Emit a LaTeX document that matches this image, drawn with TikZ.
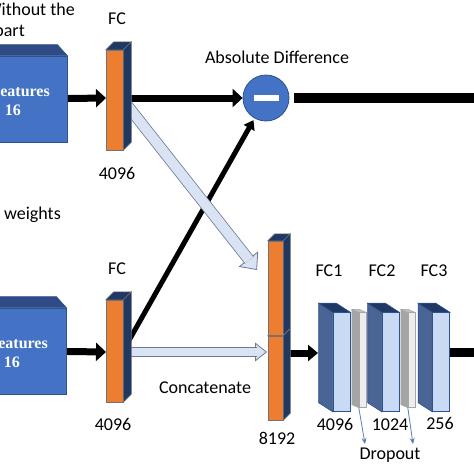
\documentclass[tikz,border=0pt]{standalone}
\usepackage{fontspec}
\setmainfont{Carlito}
\newfontfamily\featfont{Liberation Serif}
\usepackage{tikz}
\usetikzlibrary{arrows.meta,calc,positioning}

\definecolor{featblue}{HTML}{4472C4}
\definecolor{featedge}{HTML}{2F528F}
\definecolor{feattop}{HTML}{2E4B85}
\definecolor{fcorange}{HTML}{ED7D31}
\definecolor{fcnavy}{HTML}{203864}
\definecolor{densefront}{HTML}{C9DAF5}
\definecolor{denseside}{HTML}{4A6595}
\definecolor{dropfront}{HTML}{EDEDED}
\definecolor{dropside}{HTML}{A5A5A5}
\definecolor{droptop}{HTML}{BFBFBF}
\definecolor{hollowfill}{HTML}{DAE3F3}
\definecolor{hollowedge}{HTML}{6C7B91}
\definecolor{dropline}{HTML}{5B7FB5}

\tikzset{
  lbl/.style={font=\fontsize{18}{20}\selectfont, inner sep=0pt, text height=12pt, text depth=3pt},
  feattext/.style={font=\featfont\bfseries\fontsize{16}{18}\selectfont, text=white, inner sep=0pt},
  featbox/.style={draw=featedge, line width=0.8pt, fill=featblue, minimum width=72pt, minimum height=86pt, inner sep=0pt},
  fcbar/.style={draw=black!55, line width=0.5pt, fill=fcorange, minimum width=17pt, inner sep=0pt},
  densebar/.style={draw=featedge, line width=0.6pt, fill=densefront, minimum width=17pt, minimum height=99pt, inner sep=0pt},
  dropbar/.style={draw=black!35, line width=0.4pt, fill=dropfront, minimum width=7pt, minimum height=95pt, inner sep=0pt},
  diffnode/.style={circle, draw=featedge, line width=0.8pt, fill=featblue, minimum size=46pt, inner sep=0pt},
  blackarrow/.style={line width=7pt, -{Triangle[width=18pt,length=10pt]}},
  hollowshaft/.style={draw=hollowedge, line width=0.8pt, double=hollowfill, double distance=9pt},
  hollowhead/.style={draw=hollowedge, line width=0.8pt},
  droparrow/.style={draw=dropline, line width=0.8pt, -{Stealth[width=5pt,length=6pt]}}
}

\begin{document}
\begin{tikzpicture}[x=1pt, y=-1pt]
\useasboundingbox (0,0) rectangle (474,474);

% named anchors for the blocks
\coordinate (featAc) at (31,99);
\coordinate (featBc) at (30,351);
\coordinate (catInA) at (257,270);
\coordinate (catInB) at (267,352);
\coordinate (fc1In) at (318,353);
\coordinate (outA) at (480,98);
\coordinate (outB) at (480,352);
\coordinate (dropTipA) at (365,444);
\coordinate (dropTipB) at (413,444);

\node[diffnode] (diff) at (266,98) {};
\node[fill=white, minimum width=25pt, minimum height=6pt, inner sep=0pt] (minus) at (diff) {};

% connectors (behind the blocks)
\draw[blackarrow] (featAc) -- (106,98);
\draw[blackarrow] (featBc) -- (106,352);
\draw[blackarrow] (123,98) -- (diff.west);
\draw[line width=10pt, shorten <=5pt] (diff.east) -- (outA);
\draw[line width=5pt, shorten >=2pt, -{Triangle[width=12pt,length=9pt]}] (123,351) -- (diff);

% hollow arrows
\draw[hollowhead, -{Triangle[width=25pt,length=14pt,fill=hollowfill]}] ($(catInA)!14pt!(123,100)$) -- (catInA);
\draw[hollowshaft, double distance=10pt] (123,100) -- ($(catInA)!12.5pt!(123,100)$);
\draw[hollowhead, -{Triangle[width=19pt,length=12pt,fill=hollowfill]}] ($(catInB)!12pt!(123,352)$) -- (catInB);
\draw[hollowshaft, double distance=8pt] (123,352) -- ($(catInB)!10.5pt!(123,352)$);

\draw[blackarrow, -{Triangle[width=16pt,length=10pt]}] (283,353) -- (fc1In);
\draw[line width=9pt] (441,352) -- (outB);

% feature maps
\foreach \n/\p in {featA/featAc, featB/featBc} {
  \node[featbox] (\n) at (\p) {};
  \filldraw[feattop, draw=featedge, line width=0.5pt] (\n.north west) -- ++(0,-11)
    -- ($(\n.north east)+(-10,-11)$) -- (\n.north east) -- cycle;
}
\node[feattext, anchor=east] (featAname) at (50,91) {Features};
\node[feattext] (featAnum) at (13,110) {16};
\node[feattext, anchor=east] (featBname) at (48,343) {Features};
\node[feattext] (featBnum) at (12,362) {16};

% orange FC layers and concatenation
\foreach \n/\p/\w/\h/\d in {fcA/{(114.5,100)}/17pt/100pt/8, fcB/{(114.5,351)}/17pt/102pt/8,
                            catB/{(275.5,378)}/15pt/84pt/7, catA/{(275.5,288)}/15pt/94pt/7} {
  \node[fcbar, minimum width=\w, minimum height=\h] (\n) at \p {};
  \filldraw[fcnavy, draw=black!55, line width=0.5pt] (\n.north east) -- ++(\d,-\d)
    -- ($(\n.south east)+(\d,-\d)$) -- (\n.south east) -- cycle;
  \filldraw[fcnavy, draw=black!55, line width=0.5pt] (\n.north west) -- ++(\d,-\d)
    -- ($(\n.north east)+(\d,-\d)$) -- (\n.north east) -- cycle;
}

% FC1 to FC3 with dropout
\foreach \n/\x in {fc1/341.5, fc2/390.5, fc3/441} {
  \node[densebar] (\n) at (\x,362) {};
  \filldraw[denseside, draw=featedge, line width=0.6pt] (\n.north west) -- ++(-14,-9)
    -- ($(\n.south west)+(-14,-9)$) -- (\n.south west) -- cycle;
  \filldraw[fcnavy, draw=featedge, line width=0.6pt] (\n.north west) -- ++(-14,-9)
    -- ($(\n.north east)+(-14,-9)$) -- (\n.north east) -- cycle;
}
\foreach \n/\x in {dropA/362.5, dropB/411.5} {
  \node[dropbar] (\n) at (\x,360) {};
  \filldraw[dropside, draw=black!35, line width=0.4pt] (\n.north west) -- ++(-7,-3)
    -- ($(\n.south west)+(-7,-3)$) -- (\n.south west) -- cycle;
  \filldraw[droptop, draw=black!35, line width=0.4pt] (\n.north west) -- ++(-7,-3)
    -- ($(\n.north east)+(-7,-3)$) -- (\n.north east) -- cycle;
}
\draw[droparrow] (dropA.south west) -- (dropTipA);
\draw[droparrow] (dropB.south west) -- (dropTipB);

% labels
\node[lbl, anchor=east] (topnote) at (75,11) {Without the};
\node[lbl, anchor=east] (topnote2) at (25,32) {part};
\node[lbl, anchor=east] (shared) at (61,215) {weights};
\node[lbl] (fcAlbl) at (117,20) {FC};
\node[lbl] (fcAnum) at (117,175) {4096};
\node[lbl] (fcBlbl) at (117,270) {FC};
\node[lbl] (fcBnum) at (113,426) {4096};
\node[lbl] (difflbl) at (277,59) {Absolute Difference};
\node[lbl] (catlbl) at (205,389) {Concatenate};
\node[lbl] (catnum) at (277,440) {8192};
\node[lbl] (fc1lbl) at (329,272) {FC1};
\node[lbl] (fc2lbl) at (382,272) {FC2};
\node[lbl] (fc3lbl) at (434,272) {FC3};
\node[lbl] (fc1num) at (335,426) {4096};
\node[lbl] (fc2num) at (390,426) {1024};
\node[lbl] (fc3num) at (440,425) {256};
\node[lbl] (droplbl) at (390,455) {Dropout};
\end{tikzpicture}
\end{document}
